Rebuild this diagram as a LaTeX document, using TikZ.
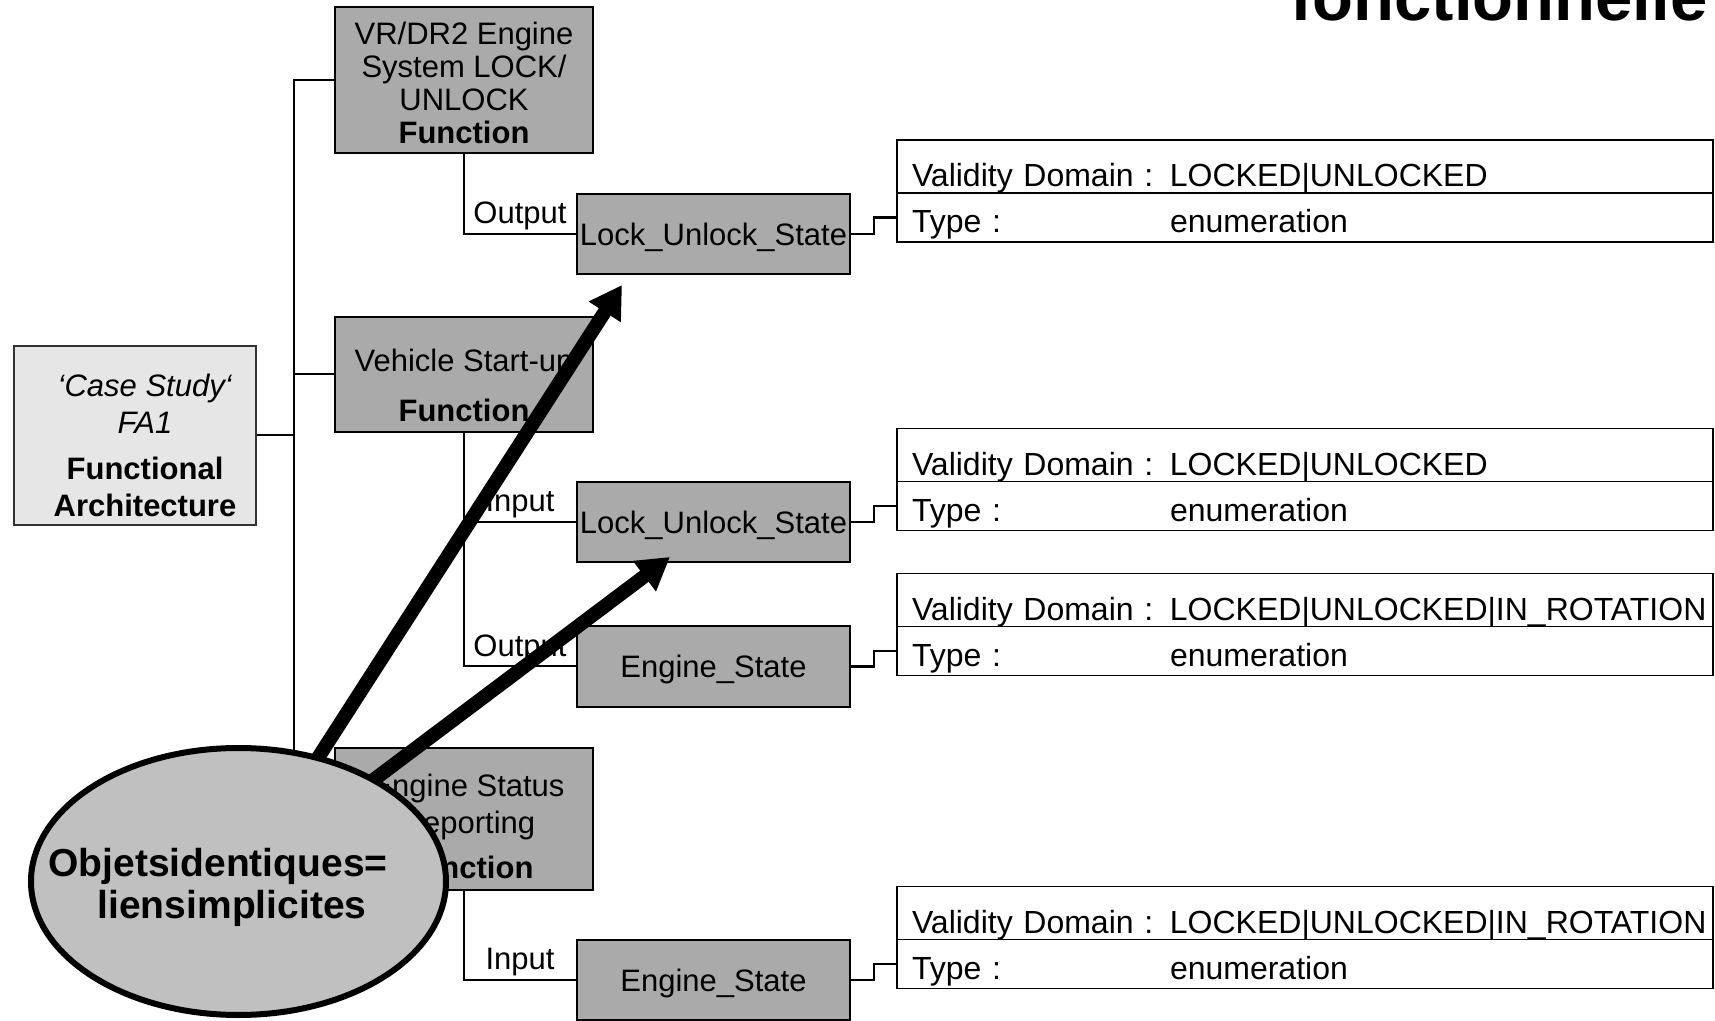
\documentclass[tikz,border=0pt]{standalone}
\usepackage{fontspec}
\setmainfont{Liberation Sans}
\usetikzlibrary{arrows.meta,shapes.geometric,positioning}
\definecolor{boxgray}{RGB}{170,170,170}
\definecolor{fagray}{RGB}{230,230,230}
\definecolor{notegray}{RGB}{192,192,192}
\pgfdeclarelayer{front}
\pgfsetlayers{main,front}
\newcommand{\attrline}[2]{\makebox[129pt][l]{#1}#2}
\tikzset{
    fabox/.style={draw=black!80,line width=1pt,fill=fagray,minimum width=121pt,minimum height=89.5pt,inner sep=0pt},
    funcbox/.style={draw,line width=1pt,fill=boxgray,minimum width=129pt,inner sep=0pt},
    boxtext/.style={align=center,inner sep=0pt,font=\fontsize{15.5}{16.5}\selectfont},
    statebox/.style={draw,line width=1pt,fill=boxgray,minimum width=136.5pt,minimum height=40pt,inner sep=0pt,text height=11.1pt,text depth=0pt,font=\fontsize{15.5}{16.5}\selectfont},
    attrrow/.style={draw,line width=0.8pt,fill=white,outer sep=0pt,inner xsep=7.5pt,inner ysep=0pt,text width=393pt,align=left,font=\fontsize{16}{18}\selectfont},
    domrow/.style={attrrow,text height=23.5pt,text depth=3pt},
    typerow/.style={attrrow,text height=20pt,text depth=4.5pt},
    wire/.style={line width=1pt},
    link/.style={line width=1.2pt},
    portlbl/.style={above,inner sep=1.5pt,font=\fontsize{15.5}{16.5}\selectfont},
    bigarrow/.style={line width=7pt,-{Triangle[length=16pt,width=18pt]}},
    note/.style={ellipse,draw,line width=3pt,fill=notegray,minimum width=207.5pt,minimum height=133.5pt,inner sep=0pt},
    notetext/.style={inner sep=0pt,font=\fontsize{19.5}{21}\selectfont\bfseries}
}
\begin{document}
\begin{tikzpicture}[x=0.5pt,y=-0.5pt]
    \useasboundingbox (0,0) rectangle (1715,1021);
    \clip (0,0) rectangle (1715,1021);
    \node [anchor=base west,inner sep=0pt,font=\fontsize{33.5}{40}\selectfont\bfseries] (title) at (1290,21) {fonctionnelle};

    % functions
    \node [fabox] (fa1) at (135,435.5) {};
    \node [boxtext] (fa1txt) at (145,445) {\textit{‘Case Study‘}\\[2pt]\textit{FA1}\\[6.5pt]\textbf{Functional}\\[2pt]\textbf{Architecture}};
    \node [funcbox,minimum height=73pt] (vrf) at (464,80) {};
    \node [boxtext] (vrtxt) at (464,83) {VR/DR2 Engine\\System LOCK/\\UNLOCK\\\textbf{Function}};
    \node [funcbox,minimum height=57.5pt] (vsu) at (464,374.5) {};
    \node [boxtext] (vsutxt) at (464,385) {Vehicle Start-up\\[8.5pt]\textbf{Function}};
    \node [funcbox,minimum height=71pt] (esr) at (464,819) {};
    \node [boxtext] (esrtxt) at (468,826) {Engine Status\\[2pt]Reporting\\[6pt]\textbf{Function}};

    \coordinate (trunk) at (294,0);
    \draw [wire] (vrf.west) -- (vrf.west -| trunk) -- (esr.west -| trunk) -- (esr.west);
    \draw [wire] (vsu.west) -- (vsu.west -| trunk);
    \draw [wire] (fa1.east) -- (fa1.east -| trunk);

    % data objects
    \node [statebox] (ls1) at (713.5,234) {Lock\_Unlock\_State};
    \node [statebox] (ls2) at (713.5,522) {Lock\_Unlock\_State};
    \node [statebox] (es1) at (713.5,666.5) {Engine\_State};
    \node [statebox] (es2) at (713.5,980) {Engine\_State};

    \draw [wire] (vrf.south) |- (ls1.west) node [portlbl,pos=0.75] (out1) {Output};
    \draw [wire] (vsu.south) |- (es1.west) node [portlbl,pos=0.75] (out2) {Output};
    \draw [wire] (vsu.south |- ls2.west) -- (ls2.west) node [portlbl,midway] (in1) {Input};
    \draw [wire] (esr.south) |- (es2.west) node [portlbl,pos=0.75] (in2) {Input};

    \node [domrow] (dom1) at (1305,166.5) {\attrline{Validity Domain :}{LOCKED|UNLOCKED}};
    \node [typerow,below=0pt of dom1] (typ1) {\attrline{Type :}{enumeration}};
    \node [domrow] (dom2) at (1305,455) {\attrline{Validity Domain :}{LOCKED|UNLOCKED}};
    \node [typerow,below=0pt of dom2] (typ2) {\attrline{Type :}{enumeration}};
    \node [domrow] (dom3) at (1305,600) {\attrline{Validity Domain :}{LOCKED|UNLOCKED|IN\_ROTATION}};
    \node [typerow,below=0pt of dom3] (typ3) {\attrline{Type :}{enumeration}};
    \node [domrow] (dom4) at (1305,913) {\attrline{Validity Domain :}{LOCKED|UNLOCKED|IN\_ROTATION}};
    \node [typerow,below=0pt of dom4] (typ4) {\attrline{Type :}{enumeration}};

    \draw [link] (ls1.east) -- ++(23,0) |- (typ1.west);
    \draw [link] (ls2.east) -- ++(23,0) |- (typ2.west);
    \draw [link] (es1.east) -- ++(23,0) |- (typ3.west);
    \draw [link] (es2.east) -- ++(23,0) |- (typ4.west);

    % implicit links
    \begin{pgfonlayer}{front}
        \node [note] (note) at (238.5,881.5) {};
        \node [notetext] (notetxt1) at (218,866) {Objetsidentiques=};
        \node [notetext] (notetxt2) at (232,908) {liensimplicites};
    \end{pgfonlayer}
    \coordinate (tip1) at (622,285);
    \coordinate (tip2) at (670,557);
    \draw [bigarrow] (note.center) -- (tip1);
    \draw [bigarrow] (note.center) -- (tip2);
\end{tikzpicture}
\end{document}
